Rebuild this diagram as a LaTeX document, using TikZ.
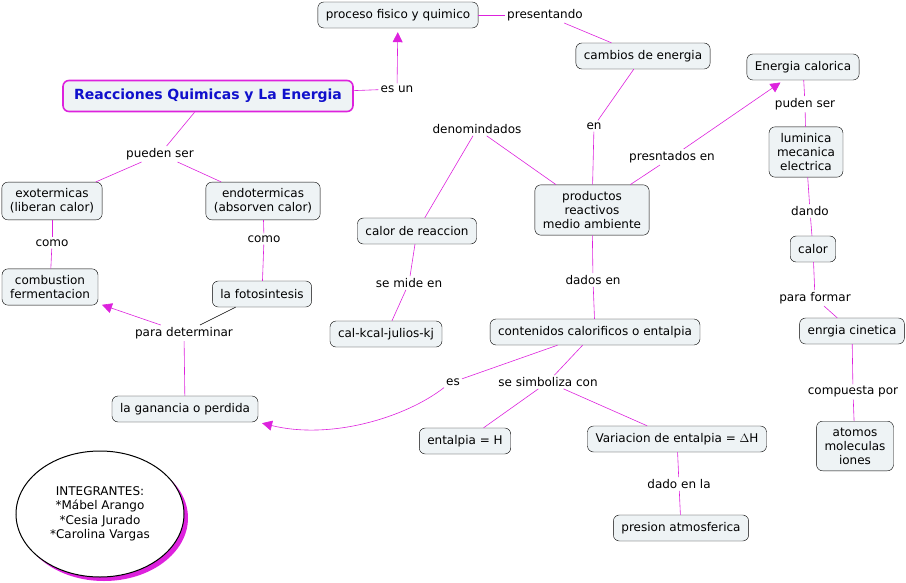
\documentclass[tikz,border=0pt]{standalone}
\usepackage{fontspec}
\setmainfont{DejaVu Sans}
\usetikzlibrary{arrows.meta, positioning, shapes.geometric, calc}

\definecolor{linkpink}{HTML}{DD22DD}
\definecolor{boxfill}{HTML}{EEF3F5}
\definecolor{titleblue}{HTML}{1010CC}

\begin{document}
\begin{tikzpicture}[
    x=1pt, y=-1pt,
    >={Triangle[length=10pt, width=10pt]},
    concept/.style={draw, rounded corners=6pt, fill=boxfill, align=center,
                    font=\fontsize{12}{14}\selectfont, inner xsep=8pt,
                    inner ysep=6.5pt, minimum height=26pt},
    phrase/.style={font=\fontsize{12}{14}\selectfont, inner sep=2pt,
                   fill=white},
    link/.style={draw=linkpink, line width=0.6pt},
    linkto/.style={link, ->, linkpink, shorten >=4pt}
  ]
  \useasboundingbox (0,0) rectangle (906,582);

  % concepts
  \node[concept, draw=linkpink, line width=1.6pt, minimum width=290pt,
        minimum height=31pt, text=titleblue,
        font=\fontsize{14}{16}\selectfont\bfseries] (title) at (208,96)
        {Reacciones Quimicas y La Energia};
  \node[concept] (proc) at (398,15) {proceso fisico y quimico};
  \node[concept] (cambios) at (643,56) {cambios de energia};
  \node[concept] (ecal) at (803,67) {Energia calorica};
  \node[concept] (lumin) at (806,152) {luminica\\mecanica\\electrica};
  \node[concept] (exo) at (52,201) {exotermicas\\(liberan calor)};
  \node[concept] (endo) at (263,201) {endotermicas\\(absorven calor)};
  \node[concept] (prod) at (592,210) {productos\\reactivos\\medio ambiente};
  \node[concept] (creac) at (417,231) {calor de reaccion};
  \node[concept] (calor) at (813,249) {calor};
  \node[concept] (comb) at (50,287) {combustion\\fermentacion};
  \node[concept] (foto) at (262,294) {la fotosintesis};
  \node[concept] (kcal) at (386,334) {cal-kcal-julios-kj};
  \node[concept] (cont) at (595,332) {contenidos calorificos o entalpia};
  \node[concept] (cinet) at (852,331) {enrgia cinetica};
  \node[concept] (gan) at (185,409) {la ganancia o perdida};
  \node[concept] (entH) at (465,441) {entalpia = H};
  \node[concept] (varH) at (677,439) {Variacion de entalpia = $\Delta$H};
  \node[concept] (atom) at (855,446) {atomos\\moleculas\\iones};
  \node[concept] (pres) at (681,528) {presion atmosferica};

  % linking phrases
  \node[phrase] (presen) at (545,15) {presentando};
  \node[phrase] (esun) at (397,89) {es un};
  \node[phrase] (en) at (594,126) {en};
  \node[phrase] (denom) at (477,129) {denomindados};
  \node[phrase] (pudens) at (805,104) {puden ser};
  \node[phrase] (presnt) at (672,157) {presntados en};
  \node[phrase] (puedens) at (160,154) {pueden ser};
  \node[phrase] (dando) at (810,211) {dando};
  \node[phrase] (como1) at (52,243) {como};
  \node[phrase] (como2) at (264,239) {como};
  \node[phrase] (mide) at (409,283) {se mide en};
  \node[phrase] (dados) at (593,280) {dados en};
  \node[phrase] (formar) at (815,298) {para formar};
  \node[phrase] (determ) at (184,333) {para determinar};
  \node[phrase] (es) at (453,382) {es};
  \node[phrase] (simb) at (548,382) {se simboliza con};
  \node[phrase] (compu) at (853,392) {compuesta por};
  \node[phrase] (dadola) at (679,484) {dado en la};

  % connectors
  \draw[link] (title) -- (esun);
  \draw[linkto] (esun) -- (proc);
  \draw[link] (proc) -- (presen);
  \draw[link] (presen) -- (cambios);
  \draw[link] (cambios) -- (en);
  \draw[link] (en) -- (prod);
  \draw[link] (prod) -- (denom);
  \draw[link] (denom) -- (creac);
  \draw[link] (prod) -- (presnt);
  \draw[linkto] (presnt) -- (ecal);
  \draw[link] (ecal) -- (pudens);
  \draw[link] (pudens) -- (lumin);
  \draw[link] (lumin) -- (dando);
  \draw[link] (dando) -- (calor);
  \draw[link] (calor) -- (formar);
  \draw[link] (formar) -- (cinet);
  \draw[link] (cinet) -- (compu);
  \draw[link] (compu) -- (atom);
  \draw[link] (title) -- (puedens);
  \draw[link] (puedens) -- (exo);
  \draw[link] (puedens) -- (endo);
  \draw[link] (exo) -- (como1);
  \draw[link] (como1) -- (comb);
  \draw[link] (endo) -- (como2);
  \draw[link] (como2) -- (foto);
  \draw[draw=black, line width=0.6pt] (foto) -- (determ);
  \draw[link] (gan) -- (determ);
  \draw[linkto] (determ) -- (comb);
  \draw[link] (creac) -- (mide);
  \draw[link] (mide) -- (kcal);
  \draw[link] (prod) -- (dados);
  \draw[link] (dados) -- (cont);
  \draw[link] (cont) -- (es);
  \draw[linkto] (es.south west) .. controls (405,418) and (330,440)
        .. (gan.south east);
  \draw[link] (cont) -- (simb);
  \draw[link] (simb) -- (entH);
  \draw[link] (simb) -- (varH);
  \draw[link] (varH) -- (dadola);
  \draw[link] (dadola) -- (pres);

  % group members
  \node[ellipse, fill=linkpink, minimum width=168pt, minimum height=126pt]
        at (104,518) {};
  \node[ellipse, draw, line width=1pt, fill=white, minimum width=168pt,
        minimum height=126pt, align=center,
        font=\fontsize{12}{14.5}\selectfont] (integ) at (100,514)
        {INTEGRANTES:\\*Mábel Arango\\*Cesia Jurado\\*Carolina Vargas};
\end{tikzpicture}
\end{document}
